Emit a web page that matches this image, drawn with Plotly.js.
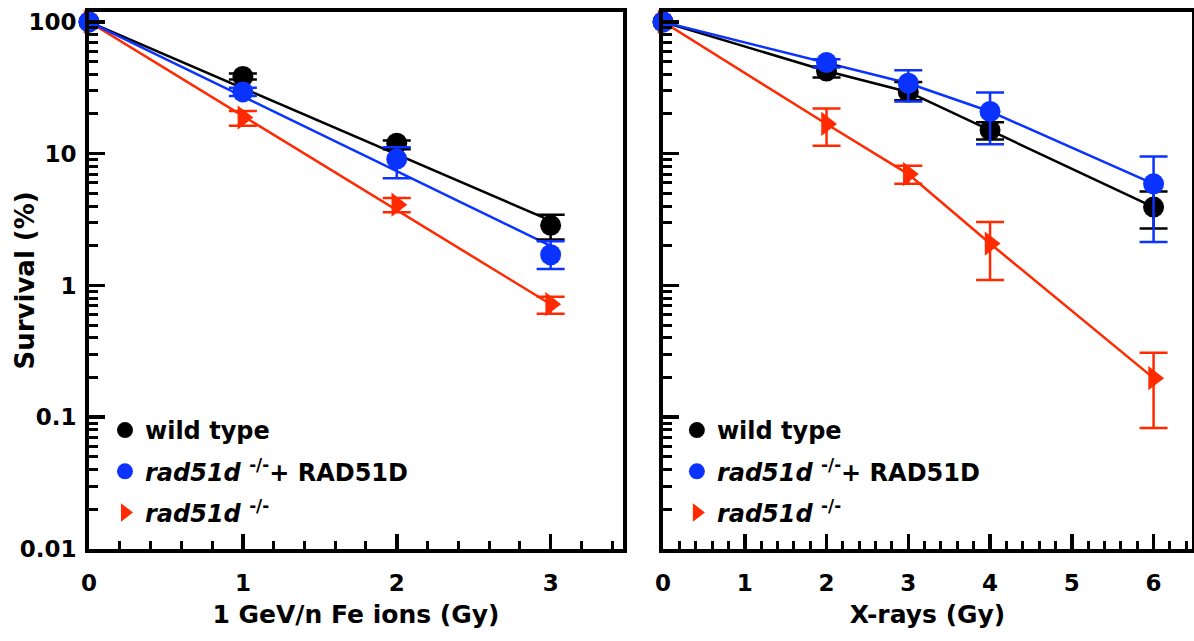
<!DOCTYPE html>
<html><head><meta charset="utf-8">
<script src="https://cdn.plot.ly/plotly-3.0.1.min.js"></script>
<style>html,body{margin:0;padding:0;background:#fff}#chart{width:1194px;height:641px}</style>
</head><body><div id="chart"></div>
<script>
// ---- Panel A: 1 GeV/n Fe ions ----
const feDose = [0, 1, 2, 3];
const feWT = [100, 38.5, 12.0, 2.86];
const feWTerrPlus = [0, 2.0, 0.6, 0.58];
const feWTerrMinus = [0, 2.0, 1.2, 0.63];
const feRes = [100, 29.4, 9.1, 1.71];
const feResErrPlus = [0, 2.3, 2.1, 0.45];
const feResErrMinus = [0, 2.0, 2.6, 0.38];
const feKO = [100, 18.8, 4.1, 0.72];
const feKOerrPlus = [0, 2.3, 0.5, 0.10];
const feKOerrMinus = [0, 2.5, 0.5, 0.11];
// fitted survival curves (read at 0 and 3 Gy)
const feFitDose = [0, 3];
const feWTfit = [100, 3.1];
const feResFit = [100, 2.0];
const feKOfit = [100, 0.72];

// ---- Panel B: X-rays ----
const xDose = [0, 2, 3, 4, 6];
const xWT = [100, 42.4, 29.4, 15.1, 3.93];
const xWTerrPlus = [0, 3.5, 5.6, 2.2, 1.23];
const xWTerrMinus = [0, 4.6, 4.0, 2.3, 1.23];
const xRes = [100, 49.1, 34.2, 20.9, 5.9];
const xResErrPlus = [0, 2.9, 8.7, 8.2, 3.6];
const xResErrMinus = [0, 4.0, 9.3, 9.1, 3.76];
const xKO = [100, 16.8, 7.0, 2.08, 0.198];
const xKOerrPlus = [0, 5.2, 1.1, 0.95, 0.11];
const xKOerrMinus = [0, 5.3, 1.1, 0.98, 0.115];

const seriesNames = ['wild type', '<i>rad51d</i>\u00a0<sup>-/-</sup>+ RAD51D', '<i>rad51d</i>\u00a0<sup>-/-</sup>'];
const yTickVals = [0.01, 0.1, 1, 10, 100];
const yTickText = ['0.01', '0.1', '1', '10', '100'];
const yMinorVals = [];
[0.01, 0.1, 1, 10, 100].forEach(d => { for (let k = 2; k <= 9; k++) yMinorVals.push(d * k); });

const BLACK = '#000000', BLUE = '#0a33ff', RED = '#ff2a00';
const FONT = 'DejaVu Sans, Liberation Sans, Arial, sans-serif';

function lineTrace(x, y, color, xa, ya) {
  return {x: x, y: y, xaxis: xa, yaxis: ya, mode: 'lines', type: 'scatter',
    line: {color: color, width: 2.5}, showlegend: false, hoverinfo: 'skip', cliponaxis: false};
}
function markTrace(x, y, ep, em, color, symbol, size, name, rank, grp, xa, ya, leg) {
  return {x: x, y: y, xaxis: xa, yaxis: ya, mode: 'markers', type: 'scatter', name: name,
    legend: leg, legendrank: rank, legendgroup: grp, cliponaxis: false,
    marker: {color: color, symbol: symbol, size: size, line: {width: 0}},
    error_y: {type: 'data', symmetric: false, array: ep, arrayminus: em, color: color, thickness: 2.5, width: 14}};
}

const data = [
  lineTrace(feFitDose, feKOfit, RED, 'x', 'y'),
  lineTrace(feFitDose, feWTfit, BLACK, 'x', 'y'),
  lineTrace(feFitDose, feResFit, BLUE, 'x', 'y'),
  markTrace(feDose, feKO, feKOerrPlus, feKOerrMinus, RED, 'triangle-right', 21, seriesNames[2], 3, 'ko', 'x', 'y', 'legend'),
  markTrace(feDose, feWT, feWTerrPlus, feWTerrMinus, BLACK, 'circle', 21, seriesNames[0], 1, 'wt', 'x', 'y', 'legend'),
  markTrace(feDose, feRes, feResErrPlus, feResErrMinus, BLUE, 'circle', 21, seriesNames[1], 2, 'res', 'x', 'y', 'legend'),

  lineTrace(xDose, xKO, RED, 'x2', 'y2'),
  lineTrace(xDose, xWT, BLACK, 'x2', 'y2'),
  lineTrace(xDose, xRes, BLUE, 'x2', 'y2'),
  markTrace(xDose, xKO, xKOerrPlus, xKOerrMinus, RED, 'triangle-right', 21, seriesNames[2], 3, 'ko2', 'x2', 'y2', 'legend2'),
  markTrace(xDose, xWT, xWTerrPlus, xWTerrMinus, BLACK, 'circle', 21, seriesNames[0], 1, 'wt2', 'x2', 'y2', 'legend2'),
  markTrace(xDose, xRes, xResErrPlus, xResErrMinus, BLUE, 'circle', 21, seriesNames[1], 2, 'res2', 'x2', 'y2', 'legend2')
];

const tickFont = {family: FONT, size: 23, color: '#000', weight: 'bold'};
const titleFont = {family: FONT, size: 25, color: '#000', weight: 'bold'};

function xAxis(domain, range, ticks, title, anchor) {
  return {domain: domain, range: range, anchor: anchor, showline: true, linecolor: '#000', linewidth: 4, mirror: true,
    showgrid: false, zeroline: false, ticks: 'inside', ticklen: 15, tickwidth: 3.5, tickcolor: '#000',
    tickmode: 'array', tickvals: ticks, ticktext: ticks.map(String), tickfont: tickFont, ticklabelstandoff: 10,
    minor: {ticks: 'inside', ticklen: 8, tickwidth: 3, tickcolor: '#000', dtick: 0.2, tick0: 0, showgrid: false},
    title: {text: title, font: titleFont, standoff: 12}};
}
function yAxis(labels, anchor) {
  return {type: 'log', domain: [0, 1], range: [-2.0, 2.075], anchor: anchor, showline: true, linecolor: '#000', linewidth: 4, mirror: true,
    showgrid: false, zeroline: false, ticks: 'inside', ticklen: 16, tickwidth: 3.5, tickcolor: '#000',
    tickmode: 'array', tickvals: yTickVals, ticktext: yTickText, showticklabels: labels, tickfont: tickFont, ticklabelstandoff: 4,
    minor: {ticks: 'inside', ticklen: 9, tickwidth: 3, tickcolor: '#000', tickmode: 'array', tickvals: yMinorVals, showgrid: false}};
}

const legFont = {family: FONT, size: 24, color: '#000', weight: 'bold'};
const layout = {
  width: 1194, height: 641,
  margin: {l: 89, r: 2, t: 12, b: 92},
  paper_bgcolor: '#fff', plot_bgcolor: '#fff',
  xaxis: xAxis([0, 0.4841], [0, 3.47], [0, 1, 2, 3], '1 GeV/n Fe ions (Gy)', 'y'),
  yaxis: yAxis(true, 'x'),
  xaxis2: xAxis([0.5204, 1], [0, 6.47], [0, 1, 2, 3, 4, 5, 6], 'X-rays (Gy)', 'y2'),
  yaxis2: yAxis(false, 'x2'),
  annotations: [{text: 'Survival (%)', xref: 'paper', yref: 'paper', x: -0.0589, y: 0.5,
    xanchor: 'center', yanchor: 'middle', textangle: -90, showarrow: false,
    font: {family: FONT, size: 26, color: '#000', weight: 'bold'}}],
  legend: {x: 0.0145, y: 0.2626, xanchor: 'left', yanchor: 'top', bgcolor: 'rgba(0,0,0,0)', font: legFont,
    traceorder: 'grouped', itemsizing: 'trace', tracegroupgap: 7},
  legend2: {x: 0.533, y: 0.2626, xanchor: 'left', yanchor: 'top', bgcolor: 'rgba(0,0,0,0)', font: legFont,
    traceorder: 'grouped', itemsizing: 'trace', tracegroupgap: 7},
  showlegend: true
};

Plotly.newPlot('chart', data, layout, {displayModeBar: false, staticPlot: true});
</script>
</body></html>
